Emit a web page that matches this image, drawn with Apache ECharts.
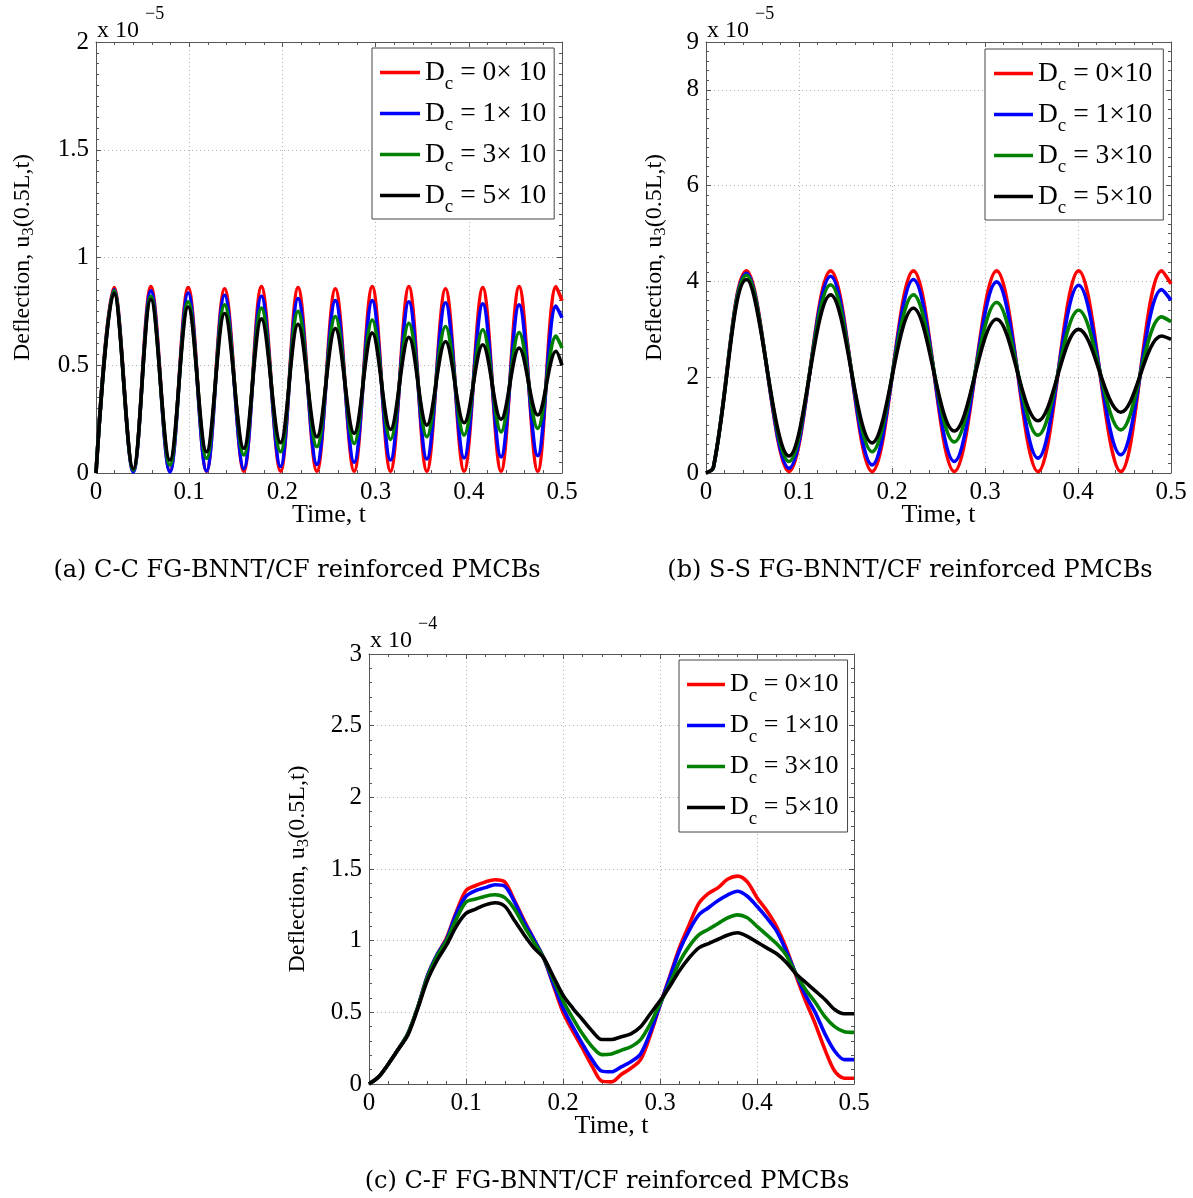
<!DOCTYPE html>
<html><head><meta charset="utf-8">
<script src="https://cdn.jsdelivr.net/npm/echarts@6/dist/echarts.min.js"></script>
<style>html,body{margin:0;padding:0;background:#fff}#c{width:1193px;height:1198px}</style>
</head><body><div id="c"></div>
<script>
// ---------- data ----------
const NAMES_A = ['D_c = 0\u00d7 10', 'D_c = 1\u00d7 10', 'D_c = 3\u00d7 10', 'D_c = 5\u00d7 10'];
const NAMES_BC = ['D_c = 0\u00d710', 'D_c = 1\u00d710', 'D_c = 3\u00d710', 'D_c = 5\u00d710'];
const COLORS = ['#ff0000', '#0000ff', '#008000', '#000000'];
const X_TICKS = [0, 0.1, 0.2, 0.3, 0.4, 0.5];
const A_Y_TICKS = [0, 0.5, 1, 1.5, 2];
const B_Y_TICKS = [0, 2, 4, 6, 8, 9];
const C_Y_TICKS = [0, 0.5, 1, 1.5, 2, 2.5, 3];
const CAPTIONS = ['(a) C-C FG-BNNT/CF reinforced PMCBs', '(b) S-S FG-BNNT/CF reinforced PMCBs', '(c) C-F FG-BNNT/CF reinforced PMCBs'];
const EXPONENTS = ['\u22125', '\u22125', '\u22124'];

// (a) C-C, values x 1e-5 (start, alternating peaks / troughs, end)
const A_T = [0, 0.0193, 0.0400, 0.0589, 0.0793, 0.0989, 0.1186, 0.1380, 0.1586, 0.1775, 0.1980, 0.2168, 0.2370, 0.2568, 0.2770, 0.2964, 0.3160, 0.3357, 0.3550, 0.3750, 0.3950, 0.4150, 0.4346, 0.4540, 0.4740, 0.4936, 0.5000];
const A_RED = [0, 0.86, 0.008, 0.865, 0.008, 0.86, 0.008, 0.855, 0.008, 0.865, 0.008, 0.86, 0.008, 0.855, 0.008, 0.865, 0.008, 0.865, 0.008, 0.855, 0.008, 0.86, 0.008, 0.865, 0.008, 0.865, 0.80];
const A_BLUE = [0, 0.85, 0.005, 0.845, 0.005, 0.835, 0.01, 0.825, 0.02, 0.82, 0.03, 0.81, 0.04, 0.80, 0.05, 0.80, 0.06, 0.795, 0.065, 0.79, 0.07, 0.785, 0.075, 0.78, 0.08, 0.775, 0.72];
const A_GREEN = [0, 0.845, 0.014, 0.82, 0.037, 0.795, 0.068, 0.78, 0.084, 0.765, 0.099, 0.75, 0.122, 0.726, 0.137, 0.71, 0.156, 0.695, 0.168, 0.68, 0.176, 0.665, 0.191, 0.652, 0.207, 0.635, 0.58];
const A_BLACK = [0, 0.835, 0.02, 0.805, 0.06, 0.77, 0.099, 0.74, 0.115, 0.715, 0.141, 0.69, 0.168, 0.67, 0.184, 0.65, 0.202, 0.63, 0.222, 0.61, 0.233, 0.595, 0.249, 0.58, 0.269, 0.565, 0.50];

// (b) S-S, values x 1e-5 (start, early rise, alternating peaks / troughs, end)
const B_T = [0, 0.008, 0.0436, 0.0893, 0.134, 0.1786, 0.223, 0.267, 0.3125, 0.357, 0.4007, 0.446, 0.49, 0.5];
const B_RED = [0, 0.12, 4.22, 0.03, 4.22, 0.03, 4.22, 0.03, 4.22, 0.03, 4.22, 0.03, 4.22, 3.95];
const B_BLUE = [0, 0.12, 4.17, 0.10, 4.11, 0.17, 4.04, 0.24, 3.99, 0.31, 3.92, 0.38, 3.83, 3.61];
const B_GREEN = [0, 0.12, 4.13, 0.24, 3.93, 0.445, 3.72, 0.65, 3.56, 0.79, 3.40, 0.90, 3.26, 3.16];
const B_BLACK = [0, 0.12, 4.04, 0.355, 3.72, 0.63, 3.44, 0.877, 3.21, 1.09, 3.00, 1.27, 2.86, 2.79];

// (c) C-F, values x 1e-4
const C_T = [0, 0.01, 0.02, 0.03, 0.04, 0.05, 0.06, 0.07, 0.08, 0.09, 0.10, 0.11, 0.12, 0.13, 0.14, 0.15, 0.16, 0.17, 0.18, 0.19, 0.20, 0.21, 0.22, 0.23, 0.24, 0.25, 0.26, 0.27, 0.28, 0.29, 0.30, 0.31, 0.32, 0.33, 0.34, 0.35, 0.36, 0.37, 0.38, 0.39, 0.40, 0.41, 0.42, 0.43, 0.44, 0.45, 0.46, 0.47, 0.48, 0.49, 0.50];
const C_RED = [0, 0.05, 0.14, 0.24, 0.35, 0.53, 0.75, 0.90, 1.02, 1.20, 1.35, 1.385, 1.41, 1.425, 1.41, 1.28, 1.14, 1.01, 0.88, 0.69, 0.50, 0.37, 0.25, 0.125, 0.02, 0.015, 0.066, 0.11, 0.17, 0.34, 0.55, 0.75, 0.95, 1.11, 1.26, 1.33, 1.37, 1.43, 1.45, 1.41, 1.30, 1.21, 1.10, 0.95, 0.76, 0.58, 0.42, 0.24, 0.09, 0.04, 0.04];
const C_BLUE = [0, 0.05, 0.14, 0.24, 0.35, 0.53, 0.75, 0.90, 1.01, 1.19, 1.31, 1.35, 1.37, 1.39, 1.38, 1.27, 1.13, 1.01, 0.88, 0.70, 0.53, 0.40, 0.28, 0.17, 0.09, 0.085, 0.12, 0.155, 0.21, 0.36, 0.55, 0.74, 0.93, 1.07, 1.18, 1.23, 1.28, 1.32, 1.345, 1.31, 1.24, 1.16, 1.07, 0.93, 0.77, 0.62, 0.50, 0.35, 0.23, 0.17, 0.17];
const C_GREEN = [0, 0.05, 0.14, 0.24, 0.35, 0.53, 0.74, 0.89, 1.00, 1.15, 1.27, 1.29, 1.31, 1.32, 1.30, 1.22, 1.10, 0.99, 0.88, 0.73, 0.58, 0.46, 0.35, 0.26, 0.205, 0.21, 0.235, 0.26, 0.31, 0.42, 0.56, 0.70, 0.85, 0.96, 1.04, 1.08, 1.12, 1.16, 1.18, 1.16, 1.10, 1.04, 0.98, 0.90, 0.77, 0.66, 0.57, 0.47, 0.40, 0.365, 0.36];
const C_BLACK = [0, 0.05, 0.14, 0.24, 0.34, 0.52, 0.72, 0.86, 0.97, 1.10, 1.19, 1.22, 1.25, 1.265, 1.24, 1.14, 1.04, 0.95, 0.88, 0.75, 0.62, 0.53, 0.45, 0.37, 0.31, 0.31, 0.33, 0.35, 0.40, 0.49, 0.58, 0.68, 0.79, 0.88, 0.95, 0.98, 1.01, 1.04, 1.055, 1.03, 0.99, 0.95, 0.91, 0.85, 0.77, 0.71, 0.65, 0.59, 0.52, 0.49, 0.49];

// ---------- layout ----------
const FONT = 'Liberation Serif';
const AX = '#555';
const PANELS = [
  { grid: { left: 96, top: 42, width: 466, height: 431 }, t: A_T, ys: [A_RED, A_BLUE, A_GREEN, A_BLACK], names: NAMES_A, yTicks: A_Y_TICKS, yInt: 0.5, yMinor: 10, smooth: 0.36,
    yNameGap: 59, legend: { left: 372, top: 48, padding: [3, 8, 2, 8], itemWidth: 40, fs: 27.5 }, exp: { x: 97, y: 31 }, cap: { x: 297, y: 571 } },
  { grid: { left: 706, top: 42, width: 465, height: 431 }, t: B_T, ys: [B_RED, B_BLUE, B_GREEN, B_BLACK], names: NAMES_BC, yTicks: B_Y_TICKS, yInt: 2, yMinor: 10, smooth: 0.36,
    yNameGap: 37, legend: { left: 985, top: 49, padding: [3, 11, 2, 9], itemWidth: 39, fs: 27.5 }, exp: { x: 707, y: 31 }, cap: { x: 910, y: 571 } },
  { grid: { left: 369, top: 654, width: 485, height: 430 }, t: C_T, ys: [C_RED, C_BLUE, C_GREEN, C_BLACK], names: NAMES_BC, yTicks: C_Y_TICKS, yInt: 0.5, yMinor: 5, smooth: 0.3,
    yNameGap: 57, legend: { left: 679, top: 660, padding: [3, 9, 3, 8], itemWidth: 38, fs: 26 }, exp: { x: 370, y: 641 }, cap: { x: 607, y: 1182 } }
];

const grids = [], xAxes = [], yAxes = [], series = [], legends = [], graphics = [];
const tickLine = { color: AX, width: 1 };
PANELS.forEach((p, i) => {
  grids.push(Object.assign({ containLabel: false, outerBoundsMode: 'none' }, p.grid));
  const xBase = { type: 'value', gridIndex: i, min: X_TICKS[0], max: X_TICKS[X_TICKS.length - 1], interval: 0.1,
    axisLine: { show: true, onZero: false, lineStyle: tickLine },
    axisTick: { show: true, inside: true, length: 5, lineStyle: tickLine },
    minorTick: { show: true, splitNumber: 5, length: 3, lineStyle: tickLine } };
  xAxes.push(Object.assign({}, xBase, { position: 'bottom',
    splitLine: { show: true, lineStyle: { type: [1, 3], color: '#b0b0b0', width: 1 } },
    axisLabel: { color: '#000', fontFamily: FONT, fontSize: 25, margin: 7 },
    name: 'Time, t', nameLocation: 'middle', nameGap: 29, nameMoveOverlap: false,
    nameTextStyle: { color: '#000', fontFamily: FONT, fontSize: 26, lineHeight: 26 } }));
  xAxes.push(Object.assign({}, xBase, { position: 'top', splitLine: { show: false }, axisLabel: { show: false } }));
  const yMax = p.yTicks[p.yTicks.length - 1];
  const yBase = { type: 'value', gridIndex: i, min: 0, max: yMax, interval: p.yInt,
    axisLine: { show: true, onZero: false, lineStyle: tickLine },
    axisTick: { show: true, inside: true, length: 5, lineStyle: tickLine },
    minorTick: { show: true, splitNumber: p.yMinor, length: 3, lineStyle: tickLine } };
  yAxes.push(Object.assign({}, yBase, { position: 'left',
    splitLine: { show: true, lineStyle: { type: [1, 3], color: '#b0b0b0', width: 1 } },
    axisLabel: { color: '#000', fontFamily: FONT, fontSize: 25, margin: 7 },
    name: '{m|Deflection, u}{s|3}{m|(0.5L,t)}', nameLocation: 'middle', nameGap: p.yNameGap, nameRotate: 90,
    nameTextStyle: { color: '#000', fontFamily: FONT, fontSize: 24,
      rich: { m: { fontFamily: FONT, fontSize: 24, lineHeight: 28, color: '#000' },
              s: { fontFamily: FONT, fontSize: 17, lineHeight: 14, padding: [12, 0, 0, 0], color: '#000' } } } }));
  yAxes.push(Object.assign({}, yBase, { position: 'right', splitLine: { show: false }, axisLabel: { show: false } }));

  p.ys.forEach((vals, k) => {
    series.push({ type: 'line', name: p.names[k], xAxisIndex: 2 * i, yAxisIndex: 2 * i,
      data: p.t.map((t, j) => [t, vals[j]]), smooth: p.smooth, symbol: 'none', showSymbol: false,
      lineStyle: { color: COLORS[k], width: 3.6 }, itemStyle: { color: COLORS[k] }, z: 2 + k, animation: false });
  });

  const L = p.legend;
  legends.push({ orient: 'vertical', left: L.left, top: L.top, padding: L.padding, itemGap: -2,
    icon: 'rect', itemWidth: L.itemWidth, itemHeight: 3.5, data: p.names, selectedMode: false,
    backgroundColor: '#fff', borderColor: '#444', borderWidth: 1, borderRadius: 0,
    formatter: n => '{d|D}{s|c}{d|' + n.slice(3) + '}',
    textStyle: { color: '#000', fontFamily: FONT, fontSize: L.fs,
      rich: { d: { fontFamily: FONT, fontSize: L.fs, lineHeight: 30, color: '#000' },
              s: { fontFamily: FONT, fontSize: 19, lineHeight: 14, padding: [24, 0, 0, 0], color: '#000' } } } });

  graphics.push({ type: 'text', x: p.exp.x, y: p.exp.y, style: { text: 'x 10', fill: '#000', font: '24px "Liberation Serif"',
    textAlign: 'left', textVerticalAlign: 'middle', align: 'left', verticalAlign: 'middle' } });
  graphics.push({ type: 'text', x: p.exp.x + 48, y: p.exp.y - 17, style: { text: EXPONENTS[i], fill: '#000', font: '18px "Liberation Serif"',
    textAlign: 'left', textVerticalAlign: 'middle', align: 'left', verticalAlign: 'middle' } });
  graphics.push({ type: 'text', x: p.cap.x, y: p.cap.y, style: { text: CAPTIONS[i], fill: '#000', font: '24px "DejaVu Serif"',
    textAlign: 'center', textVerticalAlign: 'middle', align: 'center', verticalAlign: 'middle' } });
});

const chart = echarts.init(document.getElementById('c'), null, { renderer: 'canvas' });
chart.setOption({
  animation: false, backgroundColor: '#fff',
  textStyle: { fontFamily: FONT },
  grid: grids, xAxis: xAxes, yAxis: yAxes, series: series, legend: legends, graphic: graphics
});
</script></body></html>
